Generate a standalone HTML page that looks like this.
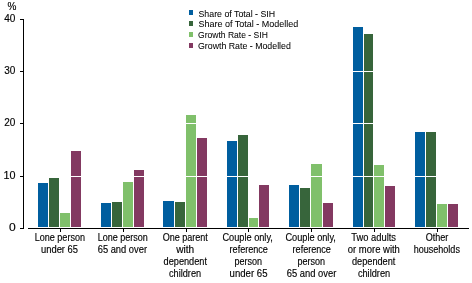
<!DOCTYPE html>
<html><head><meta charset="utf-8"><style>
html,body{margin:0;padding:0;background:#fff;}
svg{display:block;will-change:transform;}
text{font-family:"Liberation Sans",sans-serif;fill:#000;stroke:#000;stroke-width:0.15;}
</style></head><body>
<svg width="472" height="283" viewBox="0 0 472 283">
<g shape-rendering="crispEdges">
<rect x="38" y="183" width="10" height="44" fill="#005e9f"/>
<rect x="49" y="178" width="10" height="49" fill="#37653b"/>
<rect x="60" y="213" width="10" height="14" fill="#80c06b"/>
<rect x="71" y="151" width="10" height="76" fill="#833961"/>
<rect x="101" y="203" width="10" height="24" fill="#005e9f"/>
<rect x="112" y="202" width="10" height="25" fill="#37653b"/>
<rect x="123" y="182" width="10" height="45" fill="#80c06b"/>
<rect x="134" y="170" width="10" height="57" fill="#833961"/>
<rect x="163" y="201" width="11" height="26" fill="#005e9f"/>
<rect x="175" y="202" width="10" height="25" fill="#37653b"/>
<rect x="186" y="115" width="10" height="112" fill="#80c06b"/>
<rect x="197" y="138" width="10" height="89" fill="#833961"/>
<rect x="227" y="141" width="10" height="86" fill="#005e9f"/>
<rect x="238" y="135" width="10" height="92" fill="#37653b"/>
<rect x="249" y="218" width="9" height="9" fill="#80c06b"/>
<rect x="259" y="185" width="10" height="42" fill="#833961"/>
<rect x="289" y="185" width="10" height="42" fill="#005e9f"/>
<rect x="300" y="188" width="10" height="39" fill="#37653b"/>
<rect x="311" y="164" width="11" height="63" fill="#80c06b"/>
<rect x="323" y="203" width="10" height="24" fill="#833961"/>
<rect x="353" y="27" width="10" height="200" fill="#005e9f"/>
<rect x="364" y="34" width="9" height="193" fill="#37653b"/>
<rect x="374" y="165" width="10" height="62" fill="#80c06b"/>
<rect x="385" y="186" width="10" height="41" fill="#833961"/>
<rect x="415" y="132" width="10" height="95" fill="#005e9f"/>
<rect x="426" y="132" width="10" height="95" fill="#37653b"/>
<rect x="437" y="204" width="10" height="23" fill="#80c06b"/>
<rect x="448" y="204" width="10" height="23" fill="#833961"/>
<rect x="28" y="176" width="441" height="1" fill="#fff"/>
<rect x="28" y="123" width="441" height="1" fill="#fff"/>
<rect x="28" y="71" width="441" height="1" fill="#fff"/>
<rect x="23" y="19" width="1" height="210" fill="#000"/>
<rect x="20" y="228" width="3" height="1" fill="#000"/>
<rect x="20" y="176" width="3" height="1" fill="#000"/>
<rect x="20" y="123" width="3" height="1" fill="#000"/>
<rect x="20" y="71" width="3" height="1" fill="#000"/>
<rect x="20" y="19" width="3" height="1" fill="#000"/>
<rect x="28" y="228" width="441" height="1" fill="#000"/>
<rect x="60" y="229" width="1" height="3" fill="#000"/>
<rect x="123" y="229" width="1" height="3" fill="#000"/>
<rect x="186" y="229" width="1" height="3" fill="#000"/>
<rect x="248" y="229" width="1" height="3" fill="#000"/>
<rect x="311" y="229" width="1" height="3" fill="#000"/>
<rect x="374" y="229" width="1" height="3" fill="#000"/>
<rect x="437" y="229" width="1" height="3" fill="#000"/>
<rect x="189" y="10" width="4" height="5" fill="#005e9f"/>
<rect x="189" y="21" width="4" height="5" fill="#37653b"/>
<rect x="189" y="32" width="4" height="5" fill="#80c06b"/>
<rect x="189" y="43" width="4" height="5" fill="#833961"/>
</g>
<g>
<text x="15.6" y="231" text-anchor="end" textLength="6.7" lengthAdjust="spacingAndGlyphs" font-size="10">0</text>
<text x="15.6" y="179" text-anchor="end" textLength="12.0" lengthAdjust="spacingAndGlyphs" font-size="10">10</text>
<text x="15.3" y="126" text-anchor="end" font-size="10">20</text>
<text x="15.3" y="74" text-anchor="end" font-size="10">30</text>
<text x="15.3" y="22" text-anchor="end" font-size="10">40</text>
<text x="12" y="10" text-anchor="middle" font-size="10">%</text>
<text x="198.5" y="16.8" textLength="76.67" lengthAdjust="spacingAndGlyphs" style="stroke-width:0.05px" font-size="9.2">Share of Total - SIH</text>
<text x="198.5" y="27.47" textLength="99.68" lengthAdjust="spacingAndGlyphs" style="stroke-width:0.05px" font-size="9.2">Share of Total - Modelled</text>
<text x="198.0" y="38.14" textLength="69.81" lengthAdjust="spacingAndGlyphs" style="stroke-width:0.05px" font-size="9.2">Growth Rate - SIH</text>
<text x="198.0" y="48.81" textLength="92.83" lengthAdjust="spacingAndGlyphs" style="stroke-width:0.05px" font-size="9.2">Growth Rate - Modelled</text>
<text x="59.85" y="241.0" text-anchor="middle" textLength="50.3" lengthAdjust="spacingAndGlyphs" font-size="10.2">Lone person</text>
<text x="59.5" y="252.9" text-anchor="middle" textLength="36.98" lengthAdjust="spacingAndGlyphs" font-size="10.2">under 65</text>
<text x="122.8" y="241.0" text-anchor="middle" textLength="50.2" lengthAdjust="spacingAndGlyphs" font-size="10.2">Lone person</text>
<text x="122.35" y="252.9" text-anchor="middle" textLength="49.31" lengthAdjust="spacingAndGlyphs" font-size="10.2">65 and over</text>
<text x="185.25" y="241.0" text-anchor="middle" textLength="45.24" lengthAdjust="spacingAndGlyphs" font-size="10.2">One parent</text>
<text x="185.25" y="252.9" text-anchor="middle" textLength="17.98" lengthAdjust="spacingAndGlyphs" font-size="10.2">with</text>
<text x="185.3" y="264.8" text-anchor="middle" textLength="43.37" lengthAdjust="spacingAndGlyphs" font-size="10.2">dependent</text>
<text x="185.05" y="276.7" text-anchor="middle" textLength="32.12" lengthAdjust="spacingAndGlyphs" font-size="10.2">children</text>
<text x="247.65" y="241.0" text-anchor="middle" textLength="50.54" lengthAdjust="spacingAndGlyphs" font-size="10.2">Couple only,</text>
<text x="248.75" y="252.9" text-anchor="middle" textLength="38.34" lengthAdjust="spacingAndGlyphs" font-size="10.2">reference</text>
<text x="248.2" y="264.8" text-anchor="middle" textLength="27.58" lengthAdjust="spacingAndGlyphs" font-size="10.2">person</text>
<text x="248.55" y="276.7" text-anchor="middle" textLength="37.87" lengthAdjust="spacingAndGlyphs" font-size="10.2">under 65</text>
<text x="310.65" y="241.0" text-anchor="middle" textLength="50.54" lengthAdjust="spacingAndGlyphs" font-size="10.2">Couple only,</text>
<text x="311.75" y="252.9" text-anchor="middle" textLength="38.34" lengthAdjust="spacingAndGlyphs" font-size="10.2">reference</text>
<text x="311.2" y="264.8" text-anchor="middle" textLength="27.58" lengthAdjust="spacingAndGlyphs" font-size="10.2">person</text>
<text x="311.52" y="276.7" text-anchor="middle" textLength="49.56" lengthAdjust="spacingAndGlyphs" font-size="10.2">65 and over</text>
<text x="373.65" y="241.0" text-anchor="middle" textLength="44.7" lengthAdjust="spacingAndGlyphs" font-size="10.2">Two adults</text>
<text x="373.85" y="252.9" text-anchor="middle" textLength="52.11" lengthAdjust="spacingAndGlyphs" font-size="10.2">or more with</text>
<text x="373.7" y="264.8" text-anchor="middle" textLength="43.37" lengthAdjust="spacingAndGlyphs" font-size="10.2">dependent</text>
<text x="374.05" y="276.7" text-anchor="middle" textLength="32.32" lengthAdjust="spacingAndGlyphs" font-size="10.2">children</text>
<text x="437.0" y="241.0" text-anchor="middle" textLength="22.61" lengthAdjust="spacingAndGlyphs" font-size="10.2">Other</text>
<text x="436.8" y="252.9" text-anchor="middle" textLength="46.24" lengthAdjust="spacingAndGlyphs" font-size="10.2">households</text>
</g>
</svg>
</body></html>
